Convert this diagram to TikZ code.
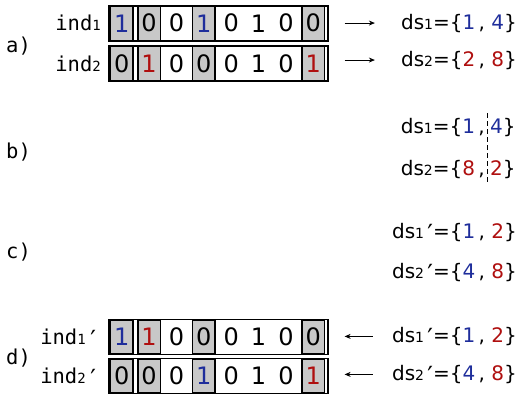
\documentclass[tikz,border=0pt]{standalone}
\usepackage{fontspec}
\setmainfont{DejaVu Sans}
\newfontfamily\monofont{DejaVu Sans Mono}
\usetikzlibrary{arrows.meta,positioning}
\definecolor{bitblue}{RGB}{30,45,155}
\definecolor{bitred}{RGB}{175,15,15}
\definecolor{cellgray}{RGB}{200,200,200}
\newcommand{\idx}[1]{{\fontsize{14}{16}\selectfont #1}}
\newcommand{\primed}{\raisebox{-4pt}{\fontsize{25}{25}\selectfont ′}}
\newcommand{\bitbar}[3]{%
    \node [bitframe] (#1) at (108,#2) {};
    \foreach \val/\col/\sty [count=\i] in {#3}
        \node [\sty, text=\col] (#1-\i) at ([xshift=\i*27.375pt-13.6875pt]#1.west) {\val};
}
\tikzset{
    bitframe/.style={draw, line width=1.6pt, fill=white, minimum width=219pt, minimum height=35pt, inner sep=0pt, anchor=west},
    bit/.style={font=\fontsize{24}{28}\selectfont, inner sep=0pt},
    setbit/.style={bit, draw, fill=cellgray, line width=1.4pt, minimum width=22.4pt, minimum height=34pt},
    indlabel/.style={font=\monofont\fontsize{20.5}{24}\selectfont, inner sep=0pt, anchor=base east},
    steplabel/.style={font=\monofont\fontsize{20.5}{24}\selectfont, inner sep=0pt, anchor=base west},
    settext/.style={font=\fontsize{20}{24}\selectfont, inner sep=0pt, anchor=base east},
    pointer/.style={-{Stealth[length=6pt, width=5pt]}, line width=0.8pt},
}
\begin{document}
\begin{tikzpicture}[x=1pt, y=-1pt]
    \useasboundingbox (0,0) rectangle (520,397);

    % a) two individuals and their sets
    \bitbar{a1}{23.25}{1/bitblue/setbit, 0/black/setbit, 0/black/bit, 1/bitblue/setbit, 0/black/bit, 1/black/bit, 0/black/bit, 0/black/setbit}
    \bitbar{a2}{63.5}{0/black/setbit, 1/bitred/setbit, 0/black/bit, 0/black/setbit, 0/black/bit, 1/black/bit, 0/black/bit, 1/bitred/setbit}
    \node [indlabel] (ind-a1) at (101,30.5) {ind\idx{1}};
    \node [indlabel] (ind-a2) at (101,71) {ind\idx{2}};
    \node [steplabel] (step-a) at (6,52) {a)};
    \node [settext] (ds-a1) at (517,29) {ds\idx{1}=\{\textcolor{bitblue}{1}\,, \textcolor{bitblue}{4}\}};
    \node [settext] (ds-a2) at (517,66) {ds\idx{2}=\{\textcolor{bitred}{2}\,, \textcolor{bitred}{8}\}};
    \draw [pointer, shorten <=16pt, shorten >=26pt] (a1.east |- ds-a1.west) -- (ds-a1.west);
    \draw [pointer, shorten <=16pt, shorten >=26pt] (a2.east |- ds-a2.west) -- (ds-a2.west);

    % b) cut point
    \node [steplabel] (step-b) at (6,158) {b)};
    \node [settext] (ds-b1l) at (485,133) {ds\idx{1}=\{\textcolor{bitblue}{1}\,,};
    \node [settext, anchor=base west] (ds-b1r) at (490,133) {\textcolor{bitblue}{4}\}};
    \node [settext] (ds-b2l) at (485,175) {ds\idx{2}=\{\textcolor{bitred}{8}\,,};
    \node [settext, anchor=base west] (ds-b2r) at (490,175) {\textcolor{bitred}{2}\}};
    \coordinate (cut-top) at (487,113);
    \coordinate (cut-bot) at (487,182);
    \draw [line width=0.7pt, dash pattern=on 5pt off 3pt] (cut-top) -- (cut-bot);

    % c) swapped sets
    \node [steplabel] (step-c) at (6,258) {c)};
    \node [settext] (ds-c1) at (517,238) {ds\idx{1}\,\primed=\{\textcolor{bitblue}{1}\,, \textcolor{bitred}{2}\}};
    \node [settext] (ds-c2) at (517,278) {ds\idx{2}\,\primed=\{\textcolor{bitblue}{4}\,, \textcolor{bitred}{8}\}};

    % d) offspring
    \bitbar{d1}{337}{1/bitblue/setbit, 1/bitred/setbit, 0/black/bit, 0/black/setbit, 0/black/bit, 1/black/bit, 0/black/bit, 0/black/setbit}
    \bitbar{d2}{376}{0/black/setbit, 0/black/setbit, 0/black/bit, 1/bitblue/setbit, 0/black/bit, 1/black/bit, 0/black/bit, 1/bitred/setbit}
    \node [indlabel] (ind-d1) at (101,344) {ind\idx{1}\primed};
    \node [indlabel] (ind-d2) at (101,383) {ind\idx{2}\primed};
    \node [steplabel] (step-d) at (6,364) {d)};
    \node [settext] (ds-d1) at (517,342) {ds\idx{1}\,\primed=\{\textcolor{bitblue}{1}\,, \textcolor{bitred}{2}\}};
    \node [settext] (ds-d2) at (517,380) {ds\idx{2}\,\primed=\{\textcolor{bitblue}{4}\,, \textcolor{bitred}{8}\}};
    \draw [pointer, shorten <=19pt, shorten >=16pt] (ds-d1.west) -- (d1.east |- ds-d1.west);
    \draw [pointer, shorten <=19pt, shorten >=16pt] (ds-d2.west) -- (d2.east |- ds-d2.west);
\end{tikzpicture}
\end{document}
